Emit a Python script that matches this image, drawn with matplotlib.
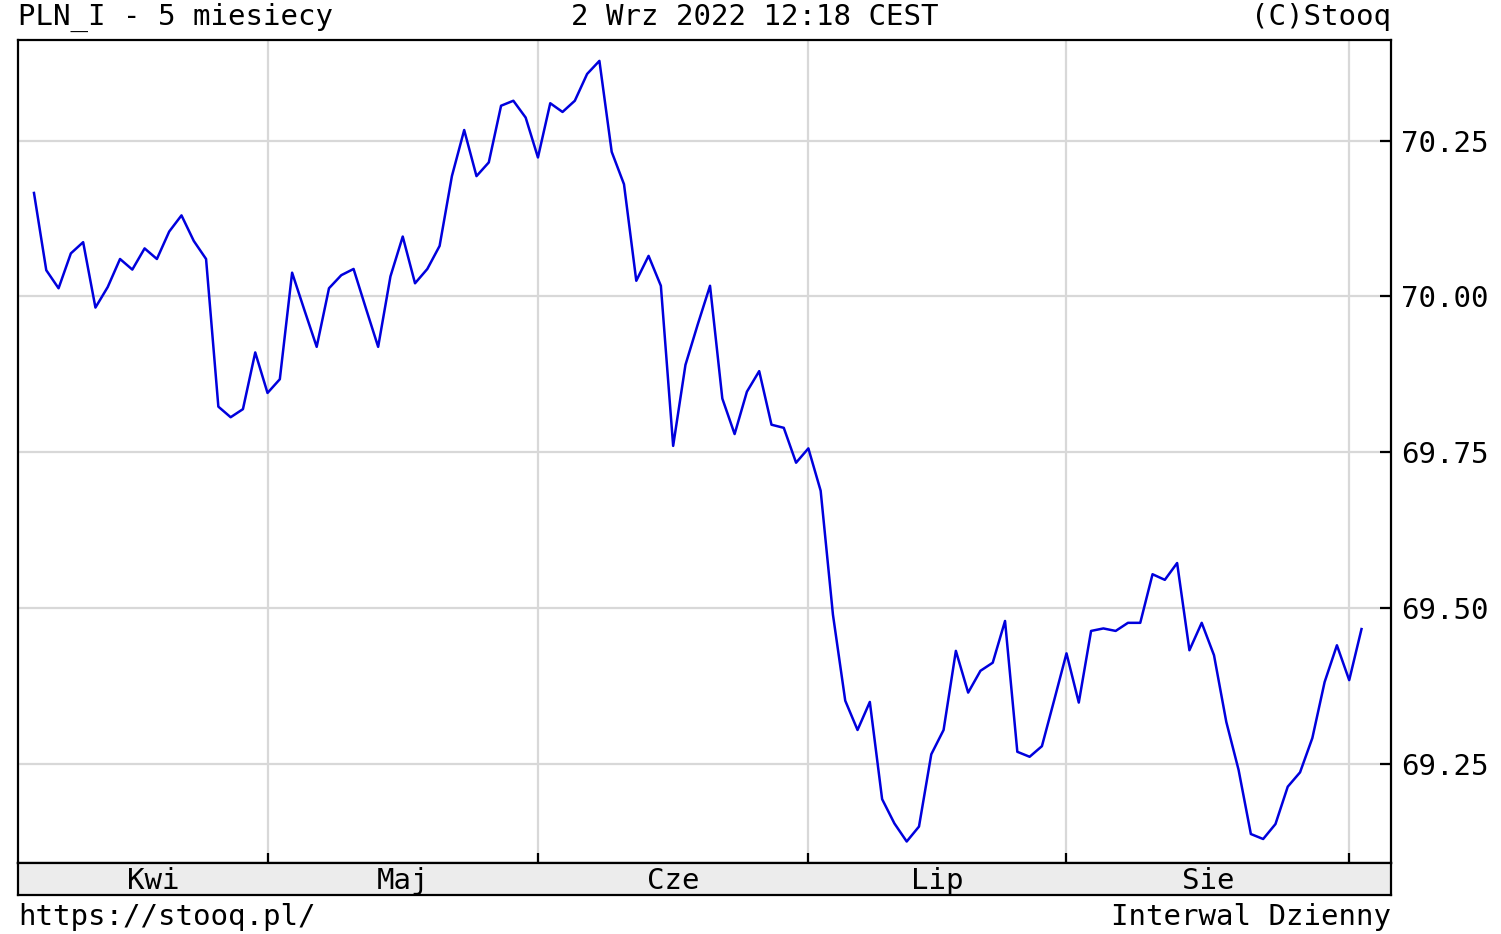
import numpy as np
import matplotlib
matplotlib.use('Agg')
import matplotlib.pyplot as plt

# kurs PLN_I, notowania dzienne
values = [
    70.166, 70.042, 70.013, 70.069, 70.087, 69.982, 70.015, 70.060, 70.043, 70.077,
    70.060, 70.104, 70.130, 70.089, 70.060, 69.823, 69.806, 69.819, 69.910,
    69.845, 69.867, 70.038, 69.978, 69.919, 70.013, 70.034, 70.044, 69.981, 69.919,
    70.032, 70.096, 70.021, 70.044, 70.081, 70.193, 70.267, 70.193, 70.215, 70.306,
    70.314, 70.287,
    70.223, 70.310, 70.296, 70.314, 70.357, 70.378, 70.232, 70.180, 70.025, 70.065,
    70.017, 69.760, 69.890, 69.955, 70.017, 69.836, 69.779, 69.847, 69.880, 69.794,
    69.789, 69.733,
    69.756, 69.688, 69.489, 69.351, 69.304, 69.349, 69.193, 69.154, 69.125, 69.149,
    69.265, 69.304, 69.431, 69.364, 69.399, 69.412, 69.479, 69.269, 69.261, 69.278,
    69.352,
    69.427, 69.348, 69.463, 69.467, 69.463, 69.476, 69.476, 69.554, 69.545, 69.572,
    69.432, 69.476, 69.424, 69.317, 69.240, 69.137, 69.129, 69.153, 69.213, 69.236,
    69.291, 69.381, 69.440,
    69.384, 69.466,
]
month_names = ['Kwi', 'Maj', 'Cze', 'Lip', 'Sie']
month_starts = [19, 41, 63, 84, 107]   # indeksy pierwszych sesji miesiaca
y_ticks = [69.25, 69.50, 69.75, 70.00, 70.25]

FONT = 'DejaVu Sans Mono'
FS = 21

fig = plt.figure(figsize=(15.01, 9.34), dpi=100)
W, H = 1501, 934

def box(l, t, r, b):
    return [l / W, 1 - b / H, (r - l) / W, (b - t) / H]

ax = fig.add_axes(box(18, 40, 1391, 863))
x = np.arange(len(values))
ax.plot(x, values, color='#0000dd', lw=1.8, zorder=3)
ax.set_xlim(-1.3, 110.4)
ax.set_ylim(69.0905, 70.4115)

for m in month_starts:
    ax.axvline(m, color='#d8d8d8', lw=1.6, zorder=1)
for t in y_ticks:
    ax.axhline(t, color='#d8d8d8', lw=1.6, zorder=1)

ax.yaxis.tick_right()
ax.set_yticks(y_ticks)
ax.set_yticklabels(['%.2f' % t for t in y_ticks], fontfamily=FONT, fontsize=FS)
ax.tick_params(axis='y', direction='in', length=8, width=1.6, pad=7)
ax.set_xticks(month_starts)
ax.set_xticklabels([])
ax.tick_params(axis='x', direction='in', length=7, width=1.6)
for s in ax.spines.values():
    s.set_linewidth(1.6)

# pasek z nazwami miesiecy
band = fig.add_axes(box(18, 863, 1391, 895))
band.set_facecolor('#ececec')
band.set_xlim(ax.get_xlim())
band.set_ylim(0, 1)
band.set_xticks([])
band.set_yticks([])
for s in band.spines.values():
    s.set_linewidth(1.6)
bounds = [0.4] + month_starts
for i, name in enumerate(month_names):
    band.text((bounds[i] + bounds[i + 1]) / 2, 0.45, name, ha='center', va='center',
              fontfamily=FONT, fontsize=FS)

fig.text(18 / W, 1 - 17 / H, 'PLN_I - 5 miesiecy', ha='left', va='center',
         fontfamily=FONT, fontsize=FS)
fig.text(755 / W, 1 - 17 / H, '2 Wrz 2022 12:18 CEST', ha='center', va='center',
         fontfamily=FONT, fontsize=FS)
fig.text(1391 / W, 1 - 17 / H, '(C)Stooq', ha='right', va='center',
         fontfamily=FONT, fontsize=FS)
fig.text(18 / W, 1 - 917 / H, 'https://stooq.pl/', ha='left', va='center',
         fontfamily=FONT, fontsize=FS)
fig.text(1391 / W, 1 - 917 / H, 'Interwal Dzienny', ha='right', va='center',
         fontfamily=FONT, fontsize=FS)

fig.savefig('out.png', dpi=100)
